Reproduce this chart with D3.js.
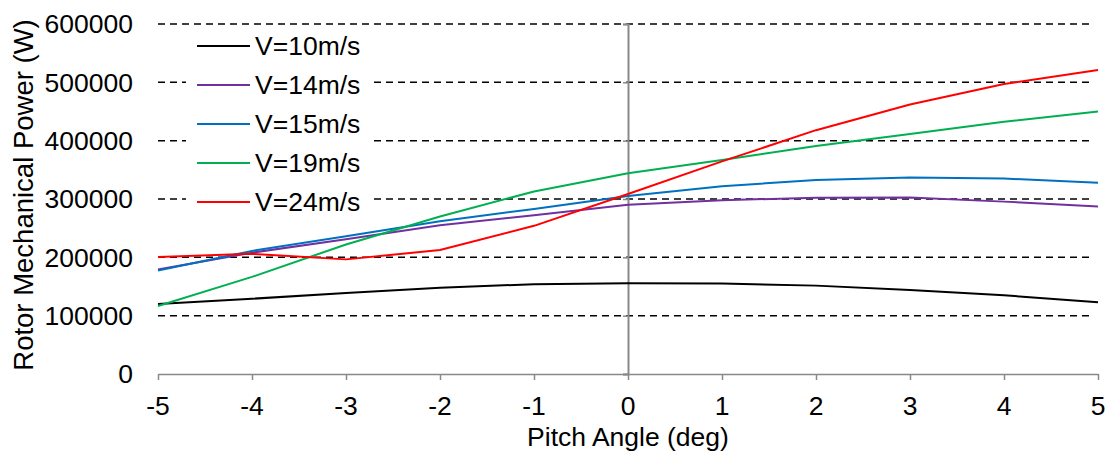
<!DOCTYPE html>
<html>
<head>
<meta charset="utf-8">
<script src="https://cdn.jsdelivr.net/npm/d3@7"></script>
<style>
  html, body { margin: 0; padding: 0; background: #fff; }
  svg { display: block; font-family: "Liberation Sans", Arial, sans-serif; }
</style>
</head>
<body>
<svg id="chart" width="1115" height="454"></svg>
<script>
// Pitch angle sweep (deg)
const pitchAngles = [-5, -4, -3, -2, -1, 0, 1, 2, 3, 4, 5];

// Rotor mechanical power (W) for each wind speed
const powerV10 = [120000, 129000, 139000, 148000, 154000, 155500, 155000, 151500, 144000, 135000, 123000];
const powerV14 = [179000, 208000, 231000, 255000, 272000, 290000, 298000, 302000, 302500, 295500, 287000];
const powerV15 = [177500, 211000, 236000, 262000, 283000, 305000, 322000, 332500, 337000, 335000, 328000];
const powerV19 = [116500, 166500, 222000, 270000, 313000, 344000, 367000, 391000, 411500, 432500, 450000];
const powerV24 = [200500, 206000, 196500, 212500, 254000, 308500, 364500, 418000, 462000, 497000, 521000];

const seriesNames = ["V=10m/s", "V=14m/s", "V=15m/s", "V=19m/s", "V=24m/s"];
const seriesColors = ["#000000", "#7030A0", "#0070C0", "#00B050", "#FF0000"];
const seriesValues = [powerV10, powerV14, powerV15, powerV19, powerV24];

const xTicks = [-5, -4, -3, -2, -1, 0, 1, 2, 3, 4, 5];
const yTicks = [0, 100000, 200000, 300000, 400000, 500000, 600000];

const svg = d3.select("#chart");
const plotLeft = 158, plotRight = 1098, plotTop = 24, plotBottom = 374;

const x = d3.scaleLinear().domain([-5, 5]).range([plotLeft, plotRight]);
const y = d3.scaleLinear().domain([0, 600000]).range([plotBottom, plotTop]);

const fontSize = 26.5;
const axisGray = "#898989";

// Horizontal dashed gridlines (above zero)
svg.append("g")
  .selectAll("line")
  .data(yTicks.filter(d => d > 0))
  .join("line")
  .attr("x1", plotLeft).attr("x2", plotRight - 4)
  .attr("y1", d => y(d)).attr("y2", d => y(d))
  .attr("stroke", "#000")
  .attr("stroke-width", 1.5)
  .attr("stroke-dasharray", "7,5");

// Y tick labels on the left
svg.append("g")
  .selectAll("text")
  .data(yTicks)
  .join("text")
  .attr("x", 133)
  .attr("y", d => y(d))
  .attr("dy", "0.35em")
  .attr("text-anchor", "end")
  .attr("font-size", fontSize)
  .attr("fill", "#000")
  .text(d => d);

// Vertical axis crossing at pitch 0, with small ticks
const yAxis = d3.axisLeft(y).tickValues(yTicks).tickSize(5).tickFormat("");
const gy = svg.append("g").attr("transform", `translate(${x(0)},0)`).call(yAxis);
gy.select(".domain").attr("stroke", axisGray).attr("stroke-width", 2);
gy.selectAll(".tick line").attr("stroke", axisGray).attr("stroke-width", 1.5);

// Horizontal axis at zero power
const xAxis = d3.axisBottom(x).tickValues(xTicks).tickSize(6).tickSizeOuter(0).tickFormat("");
const gx = svg.append("g").attr("transform", `translate(0,${plotBottom})`).call(xAxis);
gx.select(".domain").attr("stroke", axisGray).attr("stroke-width", 1.5);
gx.selectAll(".tick line").attr("stroke", axisGray).attr("stroke-width", 1.5);

svg.append("g")
  .selectAll("text")
  .data(xTicks)
  .join("text")
  .attr("x", d => x(d))
  .attr("y", 415)
  .attr("text-anchor", "middle")
  .attr("font-size", fontSize)
  .attr("fill", "#000")
  .text(d => d);

// Axis titles
svg.append("text")
  .attr("x", x(0))
  .attr("y", 446)
  .attr("text-anchor", "middle")
  .attr("font-size", fontSize)
  .attr("fill", "#000")
  .text("Pitch Angle (deg)");

svg.append("text")
  .attr("transform", "translate(33,195) rotate(-90)")
  .attr("text-anchor", "middle")
  .attr("font-size", 27.5)
  .attr("fill", "#000")
  .text("Rotor Mechanical Power (W)");

// Power curves
const line = d3.line()
  .x((d, i) => x(pitchAngles[i]))
  .y(d => y(d));

svg.append("g")
  .selectAll("path")
  .data(seriesValues)
  .join("path")
  .attr("d", d => line(d))
  .attr("fill", "none")
  .attr("stroke", (d, i) => seriesColors[i])
  .attr("stroke-width", 2)
  .attr("stroke-linejoin", "round");

// Legend
const legend = svg.append("g");
legend.append("rect")
  .attr("x", 186).attr("y", 29)
  .attr("width", 187).attr("height", 188)
  .attr("fill", "#fff");

const rowY = d3.scalePoint().domain(seriesNames).range([46, 202]);
const rows = legend.selectAll("g.row")
  .data(seriesNames)
  .join("g")
  .attr("class", "row")
  .attr("transform", d => `translate(0,${rowY(d)})`);

rows.append("line")
  .attr("x1", 197).attr("x2", 250)
  .attr("y1", 0).attr("y2", 0)
  .attr("stroke", (d, i) => seriesColors[i])
  .attr("stroke-width", 2);

rows.append("text")
  .attr("x", 255)
  .attr("dy", "0.35em")
  .attr("font-size", fontSize)
  .attr("fill", "#000")
  .text(d => d);
</script>
</body>
</html>
